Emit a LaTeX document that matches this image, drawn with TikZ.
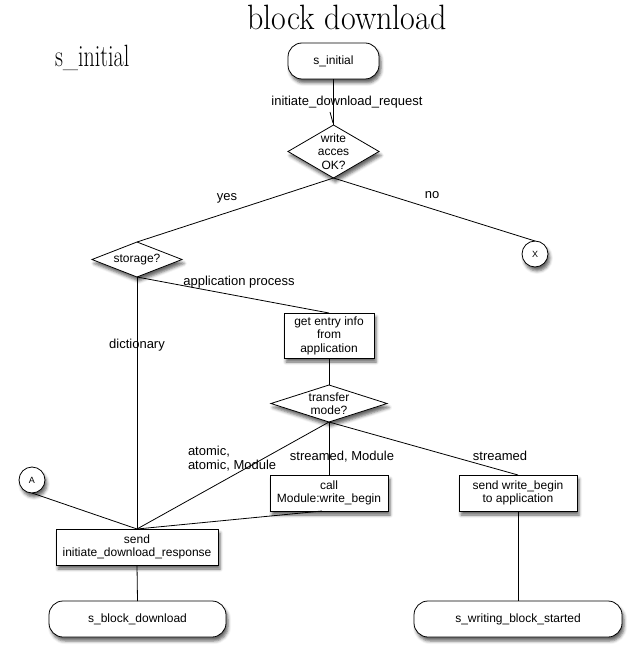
\documentclass[tikz,border=0pt]{standalone}
\usepackage{fontspec}
\setmainfont{Liberation Sans}
\newfontfamily\titlefont{Latin Modern Roman}
\usetikzlibrary{shapes.geometric,shadows.blur,calc}
\begin{document}
\begin{tikzpicture}[x=1pt,y=-1pt,
  every node/.style={inner sep=0pt, outer sep=0pt},
  conn/.style={draw=black, line width=0.8pt},
  shad/.style={blur shadow={shadow xshift=2pt, shadow yshift=-4pt, shadow blur radius=3pt, shadow opacity=60}},
  termnode/.style={draw, line width=0.8pt, fill=white, rounded corners=14pt, minimum height=36pt, font=\fontsize{12}{14}\selectfont, shad},
  procbox/.style={draw, line width=0.8pt, fill=white, align=center, font=\fontsize{12}{13.5}\selectfont, shad},
  decnode/.style={draw, line width=0.8pt, fill=white, diamond, shad},
  dectext/.style={align=center, font=\fontsize{12}{13.5}\selectfont},
  conncirc/.style={draw, circle, line width=0.8pt, fill=white, minimum size=26pt, font=\fontsize{9}{9}\selectfont, shad},
  lbl/.style={font=\fontsize{13}{14}\selectfont, align=left},
]
\useasboundingbox (0,0) rectangle (632,652);

% headings
\node[anchor=base, font=\titlefont\fontsize{32}{32}\selectfont] (title) at (347,30) {\scalebox{1}[1.1]{block download}};
\node[anchor=base west, font=\titlefont\fontsize{22}{22}\selectfont] (heading) at (55,67) {\scalebox{1}[1.4]{s\_initial}};

% nodes
\node[termnode, minimum width=91pt] (init) at (333.5,61) {s\_initial};
\node[decnode, minimum width=91pt, minimum height=53pt] (write) at (333.5,151.5) {};
\node[dectext] (writet) at (write) {write\\acces\\OK?};
\node[conncirc] (X) at (535,254) {X};
\node[decnode, minimum width=90pt, minimum height=35pt] (storage) at (137,259.5) {};
\node[dectext] (storaget) at (storage) {storage?};
\node[procbox, minimum width=90pt, minimum height=45pt] (getinfo) at (329,335.5) {get entry info\\from\\application};
\node[decnode, minimum width=116pt, minimum height=37pt] (transfer) at (329,403.5) {};
\node[dectext] (transfert) at (transfer) {transfer\\mode?};
\node[procbox, minimum width=118pt, minimum height=36pt] (call) at (329,493) {call\\Module:write\_begin};
\node[procbox, minimum width=118pt, minimum height=36pt] (sendwb) at (518,493) {send write\_begin\\to application};
\node[conncirc] (A) at (32,480) {A};
\node[procbox, minimum width=162pt, minimum height=36pt] (send) at (137,547) {send\\initiate\_download\_response};
\node[termnode, minimum width=177pt] (sbd) at (137.5,619) {s\_block\_download};
\node[termnode, minimum width=208pt] (swb) at (518,619) {s\_writing\_block\_started};

% connectors
\draw[conn] (init.south) -- (write.north);
\draw[conn] ($(write.north)+(-3.5,-13)$) -- ($(write.north)+(-0.5,-2)$);
\draw[conn] (write.south) -- (storage.north);
\draw[conn] (write.south) -- (X.north);
\draw[conn] (storage.south) -- (send.north);
\draw[conn] (storage.south) -- (getinfo.north);
\draw[conn] (getinfo.south) -- (transfer.north);
\draw[conn] (transfer.south) -- (call.north);
\draw[conn] (transfer.south) -- (send.north);
\draw[conn] (transfer.south) -- (sendwb.north);
\draw[conn] ($(call.south west)!0.44!(call.south east)$) -- (send.north);
\draw[conn] (A.south) -- (send.north);
\draw[conn] (send.south) -- (sbd.north);
\draw[conn] (sendwb.south) -- (swb.north);

% labels
\node[lbl] (l1) at (347,102) {initiate\_download\_request};
\node[lbl] (lyes) at (227,198) {yes};
\node[lbl] (lno) at (432,195) {no};
\node[lbl] (lapp) at (239,282) {application process};
\node[lbl] (ldict) at (137,345) {dictionary};
\node[lbl, anchor=west] (latom) at (188,459) {atomic,\\atomic, Module};
\node[lbl] (lsm) at (342,457) {streamed, Module};
\node[lbl] (lst) at (500,456) {streamed};
\end{tikzpicture}
\end{document}
